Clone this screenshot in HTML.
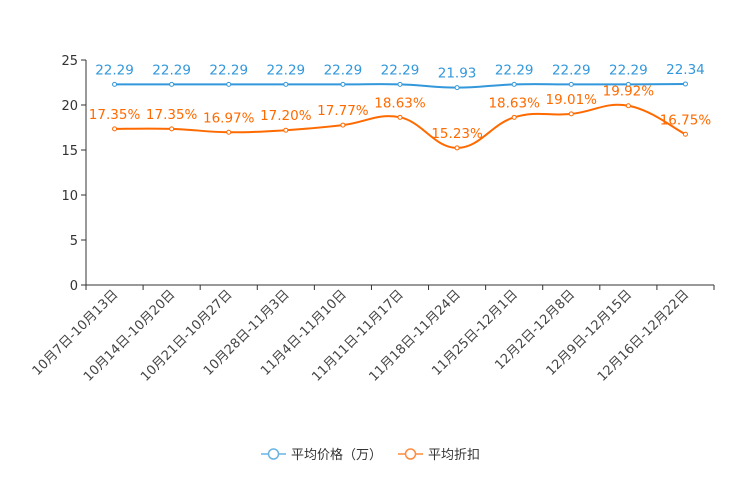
<!DOCTYPE html>
<html><head><meta charset="utf-8"><style>
body{margin:0;background:#fff;width:744px;height:496px;overflow:hidden;font-family:"DejaVu Sans","Noto Sans CJK SC",sans-serif}
</style></head><body>
<svg id="c" width="744" height="496" style="font-family:'DejaVu Sans','Noto Sans CJK SC',sans-serif"></svg>
<script>
const categories=["10月7日-10月13日","10月14日-10月20日","10月21日-10月27日","10月28日-11月3日","11月4日-11月10日","11月11日-11月17日","11月18日-11月24日","11月25日-12月1日","12月2日-12月8日","12月9日-12月15日","12月16日-12月22日"];
const priceValues=[22.29,22.29,22.29,22.29,22.29,22.29,21.93,22.29,22.29,22.29,22.34];
const discountValues=[17.35,17.35,16.97,17.20,17.77,18.63,15.23,18.63,19.01,19.92,16.75];
const yTicks=[0,5,10,15,20,25];
const NS="http://www.w3.org/2000/svg";
const svg=document.getElementById('c');
const L=86,R=714,T=60,B=285,yMax=25;
const bw=(R-L)/categories.length;
const xs=i=>L+bw*(i+0.5);
const ys=v=>B-(v/yMax)*(B-T);
function mk(t,a,p){const e=document.createElementNS(NS,t);for(const k in a)e.setAttribute(k,a[k]);(p||svg).appendChild(e);return e;}
yTicks.forEach(v=>{
 const t=mk('text',{x:L-8,y:ys(v)+5,'text-anchor':'end','font-size':13,fill:'#333'});t.textContent=v;
 
 
 mk('line',{x1:L-5,x2:L,y1:ys(v),y2:ys(v),stroke:'#333'});
});
mk('line',{x1:L,x2:L,y1:T,y2:B,stroke:'#333'});
mk('line',{x1:L,x2:R,y1:B,y2:B,stroke:'#333'});
for(let i=0;i<=categories.length;i++)mk('line',{x1:L+bw*i,x2:L+bw*i,y1:B,y2:B+5,stroke:'#333'});
categories.forEach((c,i)=>{
 const x=xs(i)+4,y=B+10;
 const t=mk('text',{x:x,y:y,'text-anchor':'end','font-size':13,fill:'#444',transform:`rotate(-45 ${x} ${y})`});
 t.textContent=c;
 
 
});
function path(vals){
 const p=vals.map((v,i)=>[xs(i),ys(v)]);let d=`M${p[0][0]},${p[0][1]}`;const k=0.2;
 for(let i=0;i<p.length-1;i++){const p0=p[i-1]||p[i],p1=p[i],p2=p[i+1],p3=p[i+2]||p2;
  d+=` C${p1[0]+(p2[0]-p0[0])*k},${p1[1]+(p2[1]-p0[1])*k} ${p2[0]-(p3[0]-p1[0])*k},${p2[1]-(p3[1]-p1[1])*k} ${p2[0]},${p2[1]}`;}
 return d;}
function series(vals,color,name){
 const g=mk('g',{});
 
 
 mk('path',{d:path(vals),fill:'none',stroke:color,'stroke-width':2},g);
 vals.forEach((v,i)=>{
  const c=mk('circle',{cx:xs(i),cy:ys(v),r:2,fill:'#fff',stroke:color,'stroke-width':1},g);
  
  
  const t=mk('text',{x:xs(i),y:ys(v)-10,'text-anchor':'middle','font-size':13.5,fill:color},g);
  t.textContent=name==='discount-series'?v.toFixed(2)+'%':v.toFixed(2);
  
  
 });
}
series(priceValues,'#3398DB','price-series');
series(discountValues,'#FF6A00','discount-series');
function legend(x,color,label,name){
 const g=mk('g',{});
 
 
 mk('line',{x1:x,x2:x+25,y1:454,y2:454,stroke:color,'stroke-width':1.5},g);
 mk('circle',{cx:x+12.5,cy:454,r:5,fill:'#fff',stroke:color,'stroke-width':1.5},g);
 const t=mk('text',{x:x+30,y:459,'font-size':13,fill:'#333'},g);t.textContent=label;
}
legend(261,'#6BB3E0','平均价格（万）','legend-price');
legend(398,'#FF8B3D','平均折扣','legend-discount');
</script>
</body></html>
